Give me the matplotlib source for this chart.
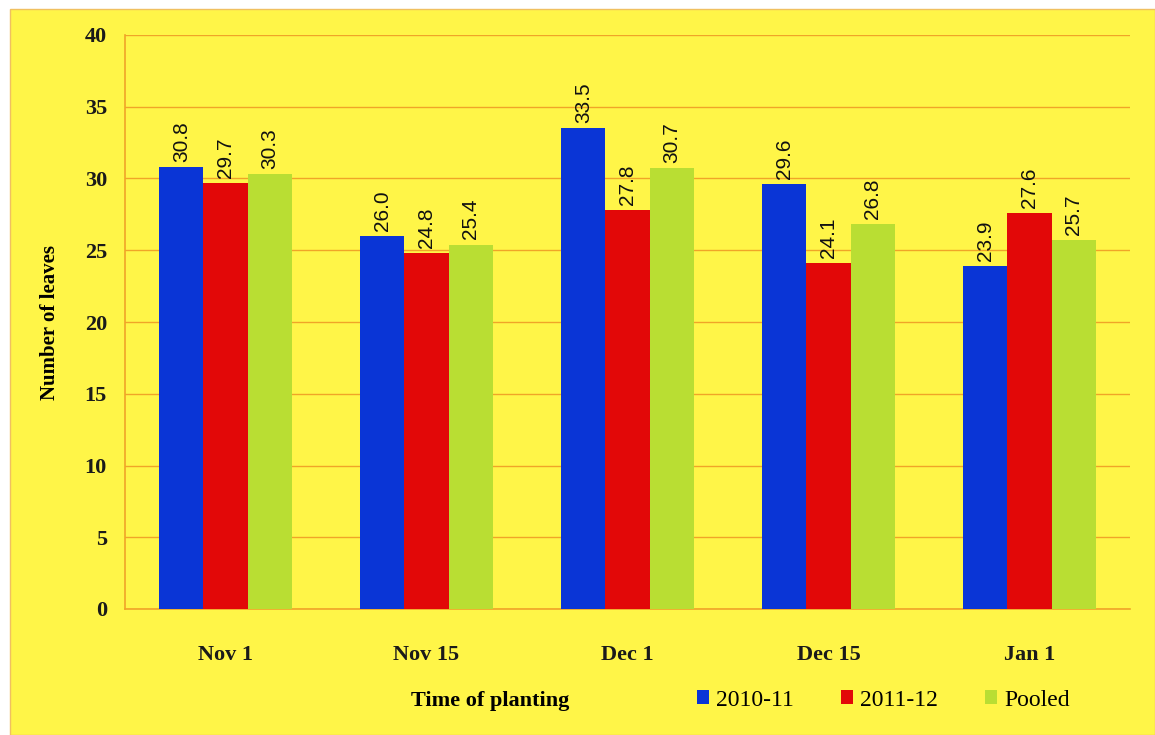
import matplotlib
matplotlib.use("Agg")
import matplotlib.pyplot as plt
import numpy as np
from matplotlib.patches import Rectangle

# data
dates = ["Nov 1", "Nov 15", "Dec 1", "Dec 15", "Jan 1"]
season_1 = [30.8, 26.0, 33.5, 29.6, 23.9]   # 2010-11
season_2 = [29.7, 24.8, 27.8, 24.1, 27.6]   # 2011-12
pooled = [30.3, 25.4, 30.7, 26.8, 25.7]
series_names = ["2010-11", "2011-12", "Pooled"]
colors = ["#0a35d6", "#e20808", "#b9de33"]

yellow = "#fff548"
grid_col = "#f0a428"

fig = plt.figure(figsize=(11.55, 7.35), dpi=100)
fig.patch.set_facecolor("white")
# yellow panel behind everything
fig.add_artist(Rectangle((10 / 1155, 0), 1 - 10 / 1155, 1 - 9 / 735,
                         transform=fig.transFigure, facecolor=yellow,
                         edgecolor="#f0c060", linewidth=1.0, zorder=-10))

ax = fig.add_axes([125 / 1155, 1 - 609 / 735, 1005 / 1155, 574 / 735])
ax.set_facecolor(yellow)

x = np.arange(len(dates))
w = 0.22
for i, (vals, name, c) in enumerate(zip([season_1, season_2, pooled], series_names, colors)):
    bars = ax.bar(x + (i - 1) * w, vals, width=w, color=c, label=name, zorder=3)
    for b, v in zip(bars, vals):
        ax.text(b.get_x() + b.get_width() / 2, v + 0.35, f"{v:.1f}", rotation=90,
                ha="center", va="bottom", fontsize=15, family="Liberation Sans",
                color="#111111", zorder=4)

ax.set_xlim(-0.5, len(dates) - 0.5)
ax.set_ylim(0, 40)
ax.set_yticks(range(0, 41, 5))
ax.set_xticks(x)
ax.set_xticklabels(dates)
ax.grid(axis="y", color=grid_col, linewidth=1.0, zorder=0)
for s in ["top", "right"]:
    ax.spines[s].set_visible(False)
for s in ["left", "bottom"]:
    ax.spines[s].set_color(grid_col)
    ax.spines[s].set_linewidth(1.2)
ax.tick_params(axis="y", length=0, labelsize=16, pad=13)
ax.tick_params(axis="x", length=0, labelsize=16, pad=26)
for lab in ax.get_xticklabels() + ax.get_yticklabels():
    lab.set_family("Liberation Serif")
    lab.set_fontweight("bold")
    lab.set_color("#1a1a1a")

ax.set_ylabel("Number of leaves", fontsize=15, family="Liberation Serif",
              fontweight="bold", labelpad=18)

fig.text(490 / 1155, 1 - 701 / 735, "Time of planting", fontsize=16,
         family="Liberation Serif", fontweight="bold", ha="center", va="center")

leg = fig.legend(loc="center left", bbox_to_anchor=(676 / 1155, 1 - 700 / 735),
                 ncol=3, frameon=False, handlelength=0.5,
                 handleheight=0.5, handletextpad=0.3, columnspacing=2.0,
                 prop={"family": "Liberation Serif", "size": 17})

fig.savefig("out.png", dpi=100, facecolor=fig.get_facecolor())
